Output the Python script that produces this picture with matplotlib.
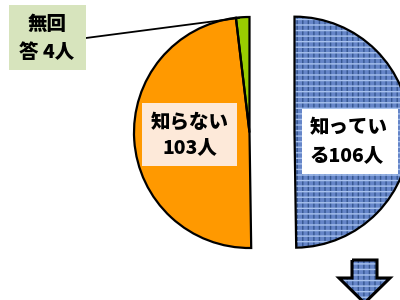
import matplotlib.pyplot as plt
from matplotlib.patches import Rectangle, Wedge, Polygon

plt.rcParams['font.family'] = ['Noto Sans CJK JP', 'DejaVu Sans']
plt.rcParams['hatch.linewidth'] = 1.0

# data
labels = ["知ってい\nる106人", "知らない\n103人", "無回\n答 4人"]
counts = [106, 103, 4]
colors = ["#6585c8", "#ff9900", "#99cc00"]
explode = [45, 0, 0]  # pie offsets are in data units here

fig = plt.figure(figsize=(4, 3), dpi=100)
ax = fig.add_axes([0, 0, 1, 1])

cx, cy, r = 249.5, 167.5, 115.5
wedges, _ = ax.pie(counts, colors=colors, explode=explode, startangle=90,
                   counterclock=False, center=(cx, cy), radius=r,
                   wedgeprops=dict(linewidth=0), frame=True)
ax.set_xlim(0, 400)
ax.set_ylim(0, 300)
ax.set_aspect("equal")
ax.axis("off")


def weave(patch_factory):
    # woven denim-like texture: dark threads one way, light threads the other
    ax.add_patch(patch_factory(fill=False, hatch="|||", edgecolor="#34558f",
                               linewidth=0, zorder=2))
    ax.add_patch(patch_factory(fill=False, hatch="---", edgecolor="#a8c2ee",
                               linewidth=0, zorder=2))


w0 = wedges[0]
weave(lambda **kw: Wedge(w0.center, w0.r, w0.theta1, w0.theta2, **kw))

# black outlines
for w in wedges:
    ax.add_patch(Wedge(w.center, w.r, w.theta1, w.theta2, fill=False,
                       edgecolor="black", linewidth=1.6, zorder=3))

txt = dict(ha="center", va="center", fontsize=14, fontweight="heavy", zorder=5)

# label boxes
ax.add_patch(Rectangle((9, 300 - 70), 77, 65, facecolor="#d7e4bd",
                       edgecolor="none", zorder=4))
ax.text(47, 300 - 24, "無回", **txt)
ax.text(47, 300 - 52, "答 4人", **txt)
ax.plot([86, 239], [300 - 38, 300 - 18], color="black", linewidth=1.3, zorder=3)

ax.add_patch(Rectangle((142, 300 - 166), 95, 63, facecolor="#fde9d9",
                       edgecolor="none", zorder=4))
ax.text(190, 300 - 122, "知らない", **txt)
ax.text(190, 300 - 148, "103人", **txt)

ax.add_patch(Rectangle((302, 300 - 174), 96, 65, facecolor="white",
                       edgecolor="none", zorder=4))
ax.text(349, 300 - 128, "知ってい", **txt)
ax.text(347, 300 - 156, "る106人", **txt)

# down arrow
arrow = [(352, 300 - 260), (377, 300 - 260), (377, 300 - 278), (390, 300 - 278),
         (364.5, 300 - 303), (339, 300 - 278), (352, 300 - 278)]
ax.add_patch(Polygon(arrow, closed=True, facecolor="#6585c8", linewidth=0,
                     zorder=2))
weave(lambda **kw: Polygon(arrow, closed=True, **kw))
ax.add_patch(Polygon(arrow, closed=True, fill=False, edgecolor="black",
                     linewidth=2.2, zorder=4))

fig.savefig("out.png", dpi=100)
